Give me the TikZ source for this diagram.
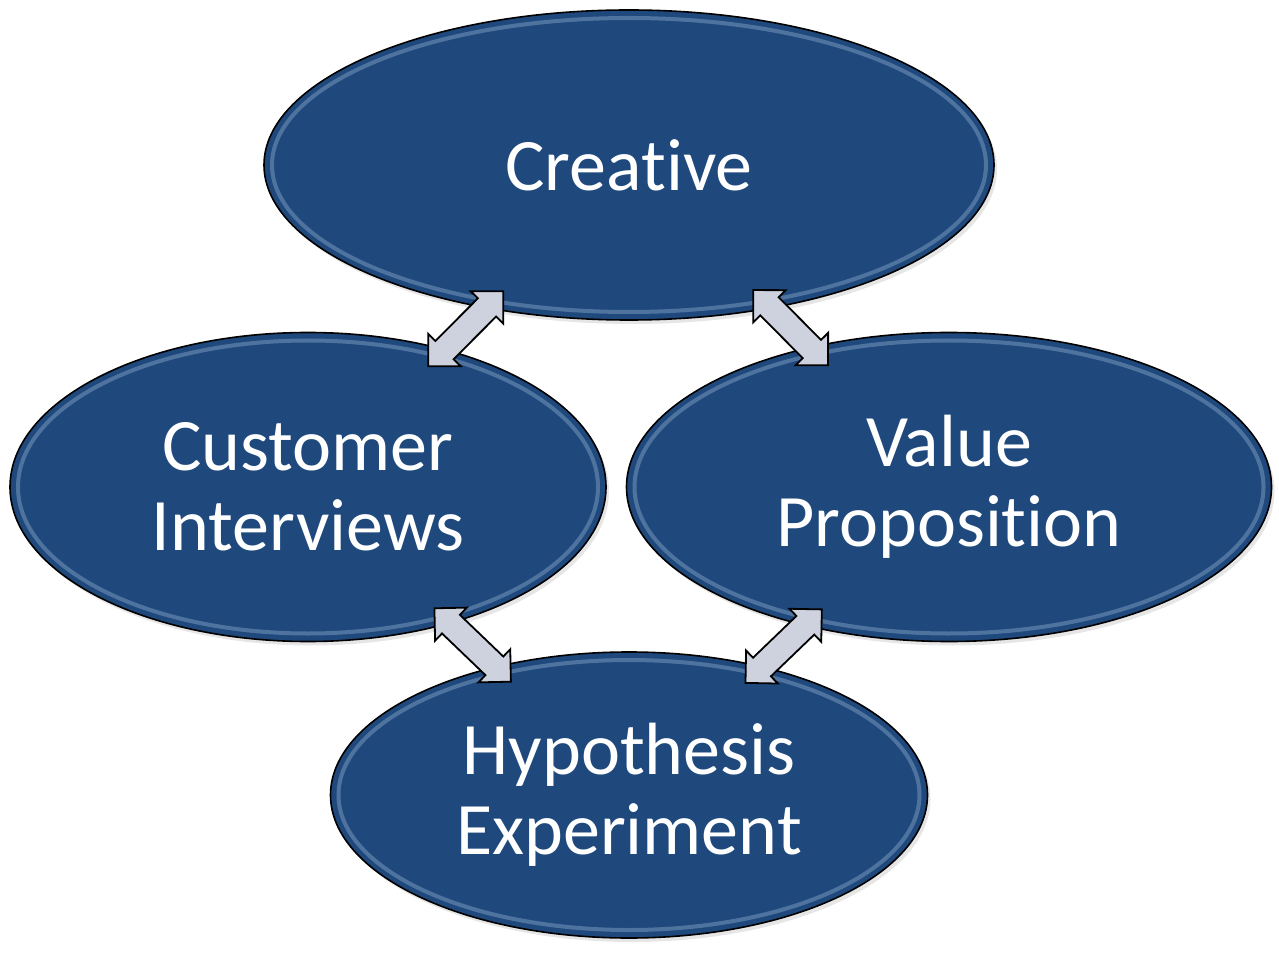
\documentclass[tikz,border=0pt]{standalone}
\usepackage{fontspec}
\setmainfont{Carlito}[Ligatures=NoCommon]
\usepackage{tikz}
\usetikzlibrary{calc}
\usetikzlibrary{shapes.geometric}
\usetikzlibrary{shapes.arrows}
\usetikzlibrary{shadows}
\definecolor{bubbleblue}{RGB}{31,73,125}
\definecolor{bubbleedge}{RGB}{170,195,225}
\definecolor{arrowgrey}{RGB}{205,210,222}
\tikzset{
  bubble/.style={ellipse, draw=black, line width=0.8pt, fill=bubbleblue,
    text=white, align=center, inner sep=0pt,
    font=\fontsize{37}{40}\selectfont,
    drop shadow={opacity=0.2, shadow xshift=1.5pt, shadow yshift=-2pt},
    path picture={
      \draw[bubbleedge, line width=2pt, opacity=0.35]
        let \p1=(path picture bounding box.north east),
            \p2=(path picture bounding box.center) in
        (\p2) ellipse [x radius=\x1-\x2-4pt, y radius=\y1-\y2-4pt];
    }},
  twoway/.style={double arrow, draw=black, line width=0.9pt, fill=arrowgrey,
    inner xsep=0pt, inner ysep=6pt, minimum width=22pt, minimum height=53pt,
    double arrow head extend=5pt, double arrow tip angle=90, sloped}
}
\begin{document}
\begin{tikzpicture}[x=0.5pt,y=-0.5pt]
  \useasboundingbox (0,0) rectangle (1279,962);
  % ellipses
  \node[bubble, minimum width=365pt, minimum height=155pt] (cre) at (629,165) {Creative};
  \node[bubble, minimum width=298pt, minimum height=154.5pt] (cus) at (308,487) {Customer\\Interviews};
  \node[bubble, minimum width=322.5pt, minimum height=154.5pt] (val) at (949,487) {Value\\Proposition};
  \node[bubble, minimum width=298.5pt, minimum height=143pt] (hyp) at (629,795) {Hypothesis\\Experiment};
  % arrows between them
  \foreach \alpha/\alphb in {cre/cus, cre/val, cus/hyp, val/hyp}
  {
    \path (\alpha) -- node[twoway] {} (\alphb);
  }
\end{tikzpicture}
\end{document}
